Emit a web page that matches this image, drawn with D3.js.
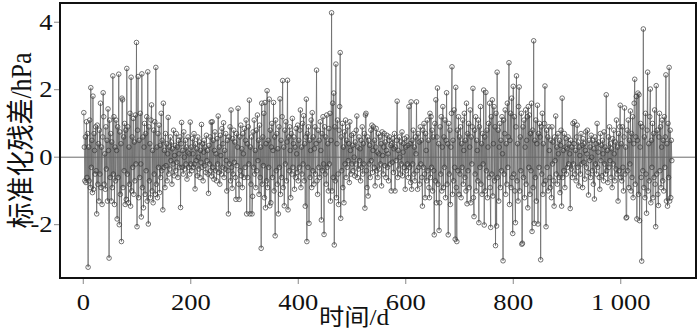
<!DOCTYPE html>
<html><head><meta charset="utf-8">
<script src="https://cdn.jsdelivr.net/npm/d3@7"></script>
<style>html,body{margin:0;padding:0;background:#fff;}svg{display:block;}</style>
</head><body>
<svg id="chart" width="700" height="330"></svg>
<script>
// standardized residuals, one value per day starting at day 1
const resDays001 = [1.32,0.3,-0.7,0.6,-0.75,1.05,-0.6,0.7,-3.26,0.3,
-0.7,1.1,-0.9,2.06,-0.3,0.5,-1.05,1.81,-0.95,0.7,
0.2,-0.5,0.9,-0.4,-1.68,0.95,-0.8,0.4,-1.3,0.8,
-0.5,1.6,-0.9,0.3,-1.4,0.6,1.91,1.2,-0.8,0.1,
-0.95,0.9,-0.35,0.5,-1.3,1.43,0.2,-2.99,1.1,-0.6,
0.7,-1.3,0.45,-0.9,2.41,-0.5,1.2,-1.4,0.3,-0.7,
1.1,0.2,-1.83,0.9,-0.6,2.46,-2.0,0.75,-1.1,0.4,
-2.5,1.75,1.7,-0.9,0.6,-0.4,1.0,-1.4,0.8,-1.25,
2.63,-0.5,0.9,-1.35,0.3,-0.8,1.3,-1.45,2.37,-1.0,
0.6,-0.3,1.15,-1.1,0.45,-0.7,1.25,-0.2,3.4,-2.06];
const resDays101 = [0.8,2.39,-1.2,0.5,-0.6,1.3,-0.2,-1.77,2.47,-0.9,
0.6,-1.5,0.3,1.0,-1.1,0.7,-0.4,1.2,-1.3,2.53,
-1.98,0.9,-0.7,0.4,-1.2,1.1,1.55,-1.0,0.2,-1.35,
0.8,-0.5,1.05,-1.1,2.66,-0.8,0.3,-1.2,0.7,-0.3,
0.95,-1.05,0.35,-0.6,1.3,-0.4,0.5,-1.56,1.6,-0.3,
0.2,-0.9,0.7,-0.25,0.4,-0.7,0.1,1.18,-0.5,0.3,
-0.35,0.6,-0.1,0.45,-0.8,0.25,-0.2,0.8,-0.55,0.05,
0.35,-0.4,0.7,-0.15,0.3,-0.6,0.5,0.1,-0.3,0.6,
-1.49,0.4,1.03,-0.3,0.2,-0.5,0.75,0.0,-0.35,0.5,
-0.2,0.3,-0.65,0.15,0.6,-0.3,0.1,-0.5,1.04,-0.2];
const resDays201 = [0.3,-0.4,0.55,0.1,-0.3,0.7,-0.2,-0.94,0.4,-0.1,
0.25,-0.55,0.6,0.0,-0.35,0.45,-0.6,0.2,-0.15,0.97,
-0.3,0.4,-0.7,0.15,0.5,-0.25,0.3,-0.45,0.65,-0.1,
0.2,-0.5,-1.07,0.35,-0.2,0.6,-0.4,1.04,-0.56,1.05,
-0.3,0.5,-0.65,0.2,0.75,-0.4,0.1,-0.7,0.55,-0.2,
1.22,-0.45,0.3,-0.8,0.65,0.05,-0.5,0.85,-0.3,0.4,
1.02,-0.6,0.2,-0.35,0.7,-0.1,-1.0,0.5,-0.4,-1.68,
0.6,-0.2,0.9,-0.7,1.4,-0.3,-0.92,0.55,-0.5,0.8,
-0.15,0.45,-0.6,-1.25,0.7,-0.25,0.3,1.45,-0.8,-1.25,
0.6,-0.4,0.95,-0.55,0.25,-0.9,0.7,0.1,-0.6,0.85];
const resDays301 = [-0.3,0.5,1.1,-1.68,0.4,-0.6,0.9,-0.2,1.69,-1.68,
0.3,-0.8,0.6,-1.68,-1.16,0.75,-0.3,1.1,-0.5,0.2,
-0.9,0.8,-0.4,1.25,-0.1,0.5,-1.1,0.95,-0.6,0.3,
-2.7,1.6,-0.8,0.6,-0.25,1.3,-1.2,1.62,-1.5,0.4,
-0.7,1.97,-0.9,0.5,-0.3,1.72,-1.44,0.8,-1.35,0.3,
1.0,-0.6,0.2,1.62,-1.0,0.6,-2.33,1.1,-0.4,0.7,
-0.8,0.25,-1.68,0.9,-0.3,1.73,-1.1,0.5,-0.6,1.2,
2.27,-0.9,0.3,-1.44,0.8,-0.2,1.05,-0.7,0.45,2.28,
-1.56,0.6,-0.4,0.9,0.2,-1.2,0.7,-0.5,1.15,-0.3,
0.4,0.6,-0.95,0.3,-0.6,0.85,0.1,-0.45,0.95,-0.7];
const resDays401 = [0.5,-0.3,0.8,1.4,-0.9,0.3,-0.5,1.0,-0.2,1.23,
-0.7,0.4,-1.45,0.6,1.72,-2.5,0.7,-0.3,0.9,-1.96,
0.5,-0.6,0.2,1.1,-0.9,1.32,-0.4,0.6,-0.8,0.25,
0.9,-0.5,0.4,2.58,-0.7,-1.1,0.8,-0.3,0.5,-0.6,
1.05,0.2,-1.86,0.7,-0.4,1.2,-0.2,-2.29,0.9,-0.5,
0.6,-0.8,1.25,-0.3,0.4,-1.0,0.85,-0.2,1.3,-1.3,
0.5,4.28,-1.0,1.6,-0.6,1.9,-2.6,0.9,-0.7,2.76,
-1.2,0.4,1.1,-0.5,-1.4,0.8,1.5,3.1,-1.81,0.6,
-0.4,1.0,-0.9,0.3,-1.35,0.75,-0.2,1.1,-0.6,0.5,
-0.3,0.9,-0.1,0.4,-0.75,1.05,0.2,-0.5,0.65,-0.2];
const resDays501 = [0.35,-0.4,0.7,0.0,-0.55,0.45,-0.2,0.8,1.22,-0.6,
0.3,-0.35,0.6,-0.1,0.25,-0.7,0.5,-0.3,0.9,-0.5,
0.4,-0.2,0.7,-1.51,1.25,1.3,-0.4,-0.9,0.6,-1.15,
0.5,-0.2,0.35,-0.6,0.8,-0.1,0.95,-0.45,0.2,0.9,
-0.3,0.5,-0.85,0.3,0.85,-0.4,0.15,-0.6,0.7,0.1,
-0.35,0.6,-0.2,0.4,-0.85,0.75,0.05,-0.5,0.3,0.7,
-0.25,0.45,-0.6,0.2,0.65,-0.3,0.1,-0.7,0.5,0.6,
-0.2,0.35,-1.0,0.4,-0.15,0.55,-0.45,0.25,0.7,-1.0,
0.3,-0.1,0.5,1.66,-0.6,0.2,-0.35,0.6,0.0,-0.5,
0.45,-0.2,0.75,-0.55,0.15,0.4,-0.3,0.55,-0.95,0.3];
const resDays601 = [-0.4,0.6,-0.2,0.35,-0.6,1.5,-0.3,0.4,-0.75,1.64,
-0.95,0.5,-0.2,0.8,-0.5,0.3,-0.7,0.6,0.1,1.64,
-0.4,-0.95,0.7,-0.3,0.45,-0.8,0.9,-0.2,0.5,-0.6,
-1.45,0.8,-0.3,1.0,-0.5,-1.2,0.7,0.2,-0.7,1.1,
-0.4,0.5,-0.9,-1.2,1.3,-0.6,1.2,-0.3,0.8,-1.0,
0.6,-0.4,-2.3,1.0,-0.7,1.7,-1.35,0.6,2.05,-0.8,
0.4,-2.17,-1.35,0.9,-0.5,1.2,-1.0,0.3,1.5,-0.9,
0.6,-0.3,1.1,-1.2,0.5,1.91,-0.8,0.4,-2.3,1.0,
-0.5,0.8,-1.4,0.3,1.3,2.68,-1.1,0.5,-0.7,1.4,
-0.3,-2.43,2.07,-0.9,-2.5,0.8,-0.4,1.2,-1.1,0.6];
const resDays701 = [-0.5,0.9,-1.2,0.4,-0.3,1.1,-0.8,0.2,1.3,-0.6,
0.5,-1.0,1.6,-1.38,0.7,-0.4,1.0,-0.9,0.3,1.4,
-1.35,0.6,-0.2,0.9,2.04,-1.2,-1.76,0.8,-0.5,1.2,
-1.0,0.5,0.2,-0.7,1.1,-1.94,0.9,-0.3,1.5,-0.8,
0.4,-1.1,0.7,-0.2,1.99,-2.01,0.6,-1.0,1.92,-0.4,
0.8,-1.2,0.3,1.0,-0.6,1.6,-0.9,-2.08,1.2,-0.5,
1.7,-1.15,0.4,1.5,-0.7,0.9,-2.62,1.3,-2.04,2.52,
-0.6,0.8,-1.3,0.3,1.0,-0.9,0.5,-0.4,1.2,0.1,
-3.07,1.1,-0.5,0.7,1.4,-1.1,0.4,-0.8,1.6,-0.3,
0.6,2.8,-1.4,0.5,1.3,-0.9,1.75,-0.6,-2.26,2.1];
const resDays801 = [-0.5,1.2,-1.0,-1.94,0.9,2.41,-0.7,0.4,-1.3,1.5,
2.08,-1.0,0.6,-0.4,1.3,-2.58,-2.55,0.9,-0.6,1.1,
-1.2,0.3,1.4,-0.8,0.5,1.2,-1.5,1.5,-0.3,1.25,
-1.1,0.7,-0.4,1.6,-2.2,0.8,-0.9,3.45,-1.96,0.5,
-0.6,1.1,-1.3,0.4,1.54,-1.98,0.7,-0.3,1.0,0.6,
-3.04,0.9,-0.5,1.3,-1.1,0.4,-0.8,1.0,2.11,-0.7,
-2.06,0.8,-0.3,0.6,-1.0,0.9,0.2,-0.6,-0.9,0.5,
-1.2,0.9,-0.2,0.45,-0.7,-1.45,0.6,-0.1,1.22,-0.5,
0.3,-0.8,0.7,0.1,-0.6,0.5,-1.05,0.35,0.8,-1.45,
1.75,-0.6,0.2,-0.4,0.7,-0.9,0.3,0.55,-0.5,0.25];
const resDays901 = [-0.3,0.6,-0.2,0.4,0.1,-1.52,0.5,-0.35,0.3,-0.6,
1.0,-0.2,0.4,1.05,-0.5,0.2,-0.7,0.6,0.95,-0.3,
0.45,-0.85,0.3,0.05,-0.5,0.7,-0.2,0.35,-0.9,0.55,
-0.15,0.4,-0.65,0.2,0.75,-0.3,0.1,0.8,-0.45,-1.12,
0.5,-0.1,0.3,-0.6,0.65,0.0,-0.4,0.5,-0.8,0.25,
-1.24,0.6,-0.2,0.4,-0.5,1.0,-0.3,0.15,0.45,-0.6,
-0.95,0.7,-0.1,0.35,-0.55,0.5,0.1,-0.7,0.75,-0.2,
0.3,-0.5,1.85,-0.4,0.2,-0.75,0.6,-0.3,0.9,-0.1,
0.4,-0.6,0.25,-0.9,0.55,-0.2,0.8,0.1,-0.7,0.45,
-0.35,1.1,-0.5,0.3,-1.3,0.7,-0.4,0.9,1.54,-0.6];
const resDays1001 = [0.4,-0.7,0.9,-0.3,-1.0,0.6,1.46,-0.5,0.3,-1.8,
-1.78,0.8,-0.4,1.1,-0.9,0.5,-0.2,1.37,-1.0,0.7,
-0.6,1.2,-1.2,0.4,1.6,2.31,-0.8,0.6,1.8,-1.83,
0.5,1.9,-1.1,1.85,-1.88,0.3,1.0,-0.6,-3.08,0.9,
-0.4,3.8,-0.9,0.6,-1.2,1.3,-0.5,-1.66,0.8,2.52,
-1.0,0.4,-0.7,1.2,2.02,-1.35,0.5,-0.3,1.0,-1.2,
0.7,-0.6,1.4,-0.8,-2.06,2.12,-0.5,0.8,-1.1,-1.43,
0.6,1.3,-0.4,0.9,-0.9,0.3,1.1,-0.7,0.5,-1.0,
1.2,-0.3,0.6,2.44,-1.3,0.4,-1.45,1.0,-0.6,2.66,
-1.3,0.8,-1.2,0.5,-0.1];

const xTicks = [0, 200, 400, 600, 800, 1000];
const xTickLabels = ["0", "200", "400", "600", "800", "1 000"];
const yTicks = [-2, 0, 2, 4];
const yTickLabels = ["-2", "0", "2", "4"];
const xTitle = "时间/d";
const yTitle = "标准化残差/hPa";

const residuals = [].concat(resDays001, resDays101, resDays201, resDays301, resDays401,
  resDays501, resDays601, resDays701, resDays801, resDays901, resDays1001);
const data = residuals.map((v, i) => ({day: i + 1, v: v}));

const L = 60, R = 696, T = 3, B = 278;
const x = d3.scaleLinear().domain([-43.3, 1140]).range([L, R]);
const y = d3.scaleLinear().domain([-3.58, 4.57]).range([B, T]);

const svg = d3.select("#chart");
svg.append("rect").attr("width", 700).attr("height", 330).attr("fill", "#fff");

const serif = "'Liberation Serif','Times New Roman','Noto Sans CJK SC',serif";
const SX = 1.18;

// zero line
svg.append("line").attr("x1", L).attr("x2", R).attr("y1", y(0)).attr("y2", y(0))
  .attr("stroke", "#6a6a6a").attr("stroke-width", 1);

// connecting line
const line = d3.line().x(d => x(d.day)).y(d => y(d.v));
svg.append("path").datum(data).attr("d", line)
  .attr("fill", "none").attr("stroke", "#666").attr("stroke-width", 0.75);

// markers
svg.append("g").selectAll("circle").data(data).join("circle")
  .attr("cx", d => x(d.day)).attr("cy", d => y(d.v)).attr("r", 2.3)
  .attr("fill", "none").attr("stroke", "#3a3a3a").attr("stroke-width", 0.7);

// frame
svg.append("rect").attr("x", L).attr("y", T).attr("width", R - L).attr("height", B - T)
  .attr("fill", "none").attr("stroke", "#111").attr("stroke-width", 2);

// x axis ticks
const xg = svg.append("g");
xTicks.forEach((t, i) => {
  xg.append("line").attr("x1", x(t)).attr("x2", x(t)).attr("y1", B + 1).attr("y2", B + 6)
    .attr("stroke", "#888").attr("stroke-width", 1);
  xg.append("text").attr("transform", `translate(${x(t)},310) scale(${SX},1)`)
    .attr("text-anchor", "middle").attr("font-family", serif).attr("font-size", 22.5)
    .attr("fill", "#111").text(xTickLabels[i]);
});
// y axis ticks
const yg = svg.append("g");
yTicks.forEach((t, i) => {
  yg.append("line").attr("x1", L - 6).attr("x2", L - 1).attr("y1", y(t)).attr("y2", y(t))
    .attr("stroke", "#888").attr("stroke-width", 1);
  yg.append("text").attr("transform", `translate(52.5,${y(t) + 7.5}) scale(${SX},1)`)
    .attr("text-anchor", "end").attr("font-family", serif).attr("font-size", 22.5)
    .attr("fill", "#111").text(yTickLabels[i]);
});

// titles
svg.append("text").attr("transform", `translate(354,325) scale(1.1,1)`)
  .attr("text-anchor", "middle").attr("font-family", serif).attr("font-size", 23)
  .attr("fill", "#111").text(xTitle);
svg.append("text").attr("transform", `translate(31,140.5) scale(1.1,1) rotate(-90)`)
  .attr("text-anchor", "middle").attr("font-family", serif).attr("font-size", 26)
  .attr("fill", "#111").text(yTitle);
</script>
</body></html>
